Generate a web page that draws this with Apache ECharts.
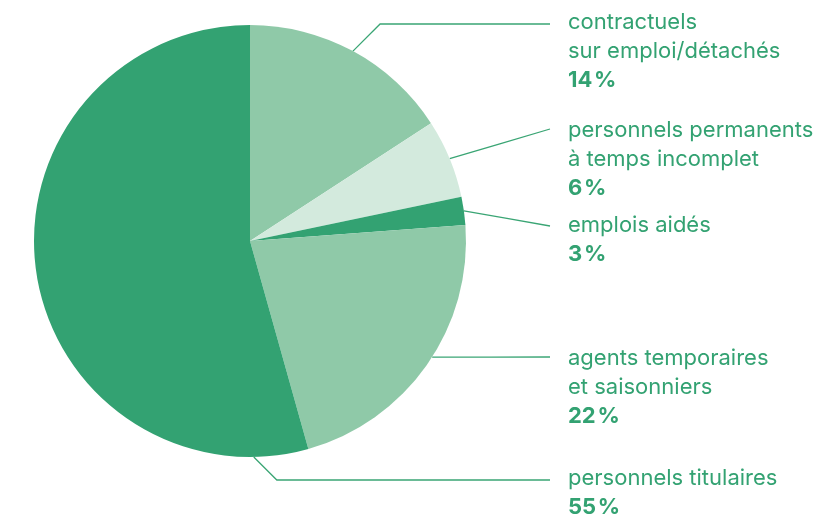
<!DOCTYPE html>
<html>
<head>
<meta charset="utf-8">
<script src="https://cdn.jsdelivr.net/npm/echarts@6/dist/echarts.min.js"></script>
<style>
html,body{margin:0;padding:0;background:#fff;}
#chart{width:823px;height:517px;}
</style>
</head>
<body>
<div id="chart"></div>
<script>
// ---- data ----
const categories = [
  'contractuels\nsur emploi/détachés',
  'personnels permanents\nà temps incomplet',
  'emplois aidés',
  'agents temporaires\net saisonniers',
  'personnels titulaires'
];
const values = [15.8, 5.9, 2.1, 21.8, 54.3];
const shareLabels = ['14', '6', '3', '22', '55'];

// ---- layout / style ----
const CX = 250, CY = 241, R = 216;
const TEXT_X = 568, LINE_END = 550;
const labelTops = [8, 116, 211, 344, 464];
const lineY = [24, 129, 226, 357, 480];
const anchorOverride = [null, null, null, 122.5, 179];
const diagonal = [true, false, false, false, true];
const colors = ['#8fc9a8', '#d3eadd', '#33a272', '#8fc9a8', '#33a272'];
const TEXT_COLOR = '#33a272';

const total = values.reduce((a, b) => a + b, 0);
const midAngles = [];
{
  let acc = 0;
  values.forEach(v => { midAngles.push((acc + v / 2) / total * 360); acc += v; });
}

const chart = echarts.init(document.getElementById('chart'), null, {renderer: 'canvas'});
chart.setOption({
  animation: false,
  series: [{
    type: 'pie',
    center: [CX, CY],
    radius: [0, R],
    startAngle: 90,
    clockwise: true,
    avoidLabelOverlap: false,
    emphasis: {disabled: true},
    data: categories.map((name, i) => ({
      name, value: values[i], itemStyle: {color: colors[i]}
    })),
    label: {
      show: true,
      position: 'outside',
      formatter: p => '{n|' + p.name.split('\n').join('}\n{n|') + '}\n{p|' + shareLabels[p.dataIndex] + '\u200a%}',
      rich: {
        n: {fontFamily: 'Inter', fontSize: 22, lineHeight: 29, color: TEXT_COLOR},
        p: {fontFamily: 'Inter', fontSize: 22, lineHeight: 29, color: TEXT_COLOR, fontWeight: 'bold'}
      }
    },
    labelLine: {
      show: true,
      smooth: false,
      lineStyle: {color: '#3aa574', width: 1.3}
    },
    labelLayout: function (params) {
      const i = params.dataIndex;
      const a = (anchorOverride[i] != null ? anchorOverride[i] : midAngles[i]) * Math.PI / 180;
      const sx = CX + R * Math.sin(a);
      const sy = CY - R * Math.cos(a);
      const ly = lineY[i];
      let pts;
      if (diagonal[i]) {
        const bx = sx + Math.abs(ly - sy);
        pts = [[sx, sy], [bx, ly], [LINE_END, ly]];
      } else {
        pts = [[sx, sy], [(sx + LINE_END) / 2, (sy + ly) / 2], [LINE_END, ly]];
      }
      return {
        x: TEXT_X, y: labelTops[i], align: 'left', verticalAlign: 'top',
        labelLinePoints: pts
      };
    }
  }]
});
</script>
</body>
</html>
